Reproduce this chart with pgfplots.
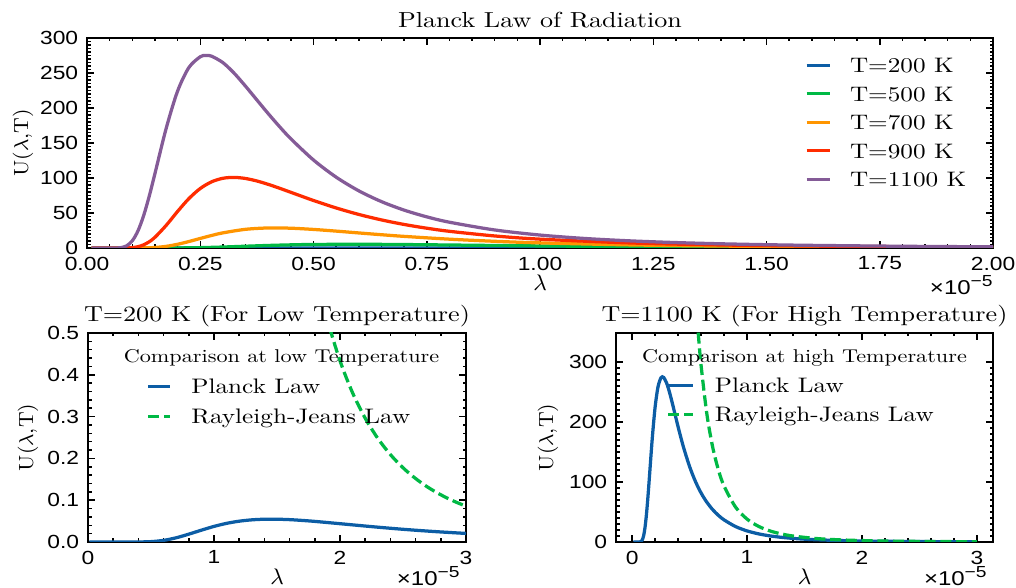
\documentclass[border=0pt]{standalone}
\usepackage{fontspec}
\usepackage{pgfplots}
\pgfplotsset{compat=1.18}
\newfontfamily\lmx{lmroman10-regular.otf}[FakeStretch=1.2]
\newfontfamily\tkf{Liberation Sans}[FakeStretch=1.2]
\definecolor{sciblue}{HTML}{0C5DA5}
\definecolor{scigreen}{HTML}{00B945}
\definecolor{sciorange}{HTML}{FF9500}
\definecolor{scired}{HTML}{FF2C00}
\definecolor{scipurple}{HTML}{845B97}
\newcommand{\ttlfont}{\lmx\fontsize{8.7}{10}\selectfont}
\newcommand{\legfont}{\lmx\fontsize{8.4}{10}\selectfont}
\newcommand{\legtfont}{\lmx\fontsize{7.4}{9}\selectfont}
\newcommand{\tkfont}{\tkf\fontsize{7.6}{8.5}\selectfont}
\newcommand{\tenfive}{{\tkf\fontsize{8}{9}\selectfont ×10\raisebox{3.2pt}{\tkf\fontsize{6.4}{7}\selectfont −5}}}

% Planck law U(lambda,T), lambda in units of 1e-5 m
\pgfplotstableread{
x y
0.01 0
0.30 0
0.40 0.0001
0.50 0.0009
0.60 0.0039
0.70 0.0101
0.80 0.0188
0.90 0.0283
1.00 0.0373
1.10 0.0446
1.20 0.0498
1.30 0.0530
1.40 0.0545
1.50 0.0545
1.60 0.0535
1.70 0.0516
1.80 0.0493
2.00 0.0438
2.25 0.0368
2.50 0.0304
2.75 0.0250
3.00 0.0205
}\tTwoHundred
\pgfplotstableread{
x y
0.01 0
0.15 0.003
0.20 0.087
0.25 0.506
0.30 1.389
0.35 2.534
0.40 3.638
0.45 4.498
0.50 5.046
0.60 5.324
0.70 4.931
0.80 4.278
0.90 3.592
1.00 2.969
1.20 2.002
1.40 1.360
1.60 0.943
1.80 0.669
2.00 0.485
}\tFiveHundred
\pgfplotstableread{
x y
0.01 0
0.10 0.0058
0.125 0.116
0.15 0.725
0.175 2.382
0.20 5.312
0.225 9.246
0.25 13.63
0.275 17.89
0.30 21.61
0.35 26.68
0.40 28.62
0.45 28.26
0.50 26.52
0.55 24.12
0.60 21.51
0.65 18.96
0.70 16.60
0.80 12.61
0.90 9.572
1.00 7.317
1.20 4.407
1.40 2.774
1.60 1.819
1.80 1.237
2.00 0.868
}\tSevenHundred
\pgfplotstableread{
x y
0.01 0
0.075 0.011
0.0875 0.111
0.10 0.560
0.1125 1.839
0.125 4.503
0.1375 8.955
0.15 15.29
0.175 32.48
0.20 52.27
0.225 70.61
0.25 84.99
0.275 94.56
0.30 99.59
0.325 100.86
0.35 99.28
0.375 95.74
0.40 90.92
0.425 85.39
0.45 79.53
0.50 67.87
0.55 57.20
0.60 47.94
0.65 40.12
0.70 33.63
0.75 28.27
0.80 23.85
0.90 17.20
1.00 12.63
1.20 7.184
1.40 4.347
1.60 2.771
1.80 1.845
2.00 1.273
}\tNineHundred
\pgfplotstableread{
x y
0.01 0
0.05 0.0007
0.0625 0.042
0.075 0.551
0.0875 3.086
0.10 10.27
0.1125 24.42
0.125 46.19
0.1375 74.34
0.15 106.40
0.175 171.40
0.20 224.2
0.225 257.9
0.25 273.2
0.2625 275.1
0.275 274.0
0.30 264.8
0.325 249.6
0.35 231.1
0.375 211.5
0.40 192.0
0.425 173.4
0.45 156.0
0.50 125.7
0.55 101.2
0.60 81.66
0.65 66.27
0.70 54.12
0.75 44.50
0.80 36.84
0.90 25.76
1.00 18.48
1.10 13.56
1.20 10.15
1.30 7.741
1.40 6.001
1.50 4.719
1.60 3.761
1.80 2.471
2.00 1.688
2.25 1.097
2.50 0.743
2.75 0.521
3.00 0.376
}\tElevenHundred
% Rayleigh-Jeans law
\pgfplotstableread{
x y
1.8 0.6608
1.9 0.5323
2.0 0.4335
2.1 0.3567
2.2 0.2961
2.3 0.2479
2.4 0.2091
2.5 0.1776
2.6 0.1518
2.7 0.1305
2.8 0.1129
2.9 0.0981
3.0 0.0856
}\rjLow
\pgfplotstableread{
x y
0.50 610.4
0.55 416.9
0.575 349.0
0.60 294.4
0.65 213.7
0.70 158.9
0.75 120.6
0.80 93.14
0.90 58.15
1.00 38.15
1.10 26.06
1.20 18.40
1.30 13.36
1.40 9.931
1.60 5.821
1.80 3.634
2.00 2.384
2.25 1.489
2.50 0.977
2.75 0.667
3.00 0.471
}\rjHigh

\pgfplotsset{
  sci/.style={
    scale only axis,
    anchor=south west,
    axis line style={line width=0.9pt},
    tick style={black, line width=0.6pt},
    major tick length=2.8pt,
    minor tick length=1.4pt,
    tick align=inside,
    ticklabel style={font=\tkfont},
    /pgf/number format/assume math mode=true,
    scaled ticks=false,
    clip mode=individual,
    every axis plot/.append style={line width=1.3pt, smooth},
    title style={font=\ttlfont, at={(axis description cs:0.5,1)}, anchor=center, yshift=1.2pt},
    xlabel style={font=\fontsize{9}{10}\selectfont, at={(axis description cs:0.5,0)}, anchor=center, yshift=-14pt},
    ylabel style={font=\fontsize{8.2}{9}\selectfont, at={(axis description cs:0,0.5)}, anchor=center},
    legend style={draw=none, fill=none, inner sep=0pt, outer sep=0pt, anchor=north west,
      column sep=7.6pt, nodes={inner sep=0pt, text height=5.9pt, text depth=0pt}, font=\legfont},
    legend cell align=left,
    legend image code/.code={\draw[##1,line width=1.2pt] (0pt,0pt) -- (9.2pt,0pt);},
  },
  rj/.style={scigreen, dash pattern=on 4.4pt off 1.9pt},
  legshort/.style={legend image code/.code={\draw[##1,line width=1.2pt] (0pt,0pt) -- (8.6pt,0pt);}},
  leglong/.style={legend image code/.code={\draw[##1,line width=1.2pt] (0pt,0pt) -- (10pt,0pt);}},
}

\begin{document}
\begin{tikzpicture}
\useasboundingbox (0,0) rectangle (406.4pt,235.2pt);

\begin{axis}[sci, at={(34.8pt,136pt)}, width=362.4pt, height=84pt,
  xmin=0, xmax=2, ymin=0, ymax=300,
  xtick={0,0.25,0.5,0.75,1,1.25,1.5,1.75,2},
  xticklabels={0.00,0.25,0.50,0.75,1.00,1.25,1.50,1.75,2.00},
  minor x tick num=4,
  ytick={0,50,100,150,200,250,300}, minor y tick num=9,
  title={Planck Law of Radiation},
  xlabel={$\lambda$}, ylabel={U($\lambda$,T)},
  ylabel style={yshift=25.6pt},
  legend style={at={(axis description cs:0.7925,0.905)}, row sep=5.5pt},
]
\addplot[sciblue] table {\tTwoHundred};
\addlegendentry{T=200 K}
\addplot[scigreen] table {\tFiveHundred};
\addlegendentry{T=500 K}
\addplot[sciorange] table {\tSevenHundred};
\addlegendentry{T=700 K}
\addplot[scired] table {\tNineHundred};
\addlegendentry{T=900 K}
\addplot[scipurple] table {\tElevenHundred};
\addlegendentry{T=1100 K}
\node[inner sep=0.5pt] at (rel axis cs:0.965,0) [yshift=-14.8pt] {\tenfive};
\end{axis}

\begin{axis}[sci, legshort, at={(35.2pt,18.4pt)}, width=151.2pt, height=83.6pt,
  xmin=0, xmax=3, ymin=0, ymax=0.5,
  xtick={0,1,2,3}, minor x tick num=4,
  ytick={0,0.1,0.2,0.3,0.4,0.5},
  yticklabels={0.0,0.1,0.2,0.3,0.4,0.5}, minor y tick num=4,
  title={T=200 K (For Low Temperature)},
  title style={yshift=-0.4pt},
  xlabel={$\lambda$}, ylabel={U($\lambda$,T)},
  ylabel style={yshift=24pt},
  legend style={at={(axis description cs:0.156,0.781)}, row sep=6.1pt, column sep=8pt},
]
\addplot[sciblue] table {\tTwoHundred};
\addlegendentry{Planck Law}
\addplot[rj] table {\rjLow};
\addlegendentry{Rayleigh-Jeans Law}
\node[font=\legtfont] at (rel axis cs:0.512,0.880) {Comparison at low Temperature};
\node[inner sep=0.5pt] at (rel axis cs:0.90,0) [yshift=-13.6pt] {\tenfive};
\end{axis}

\begin{axis}[sci, leglong, at={(246.4pt,18.4pt)}, width=150.8pt, height=83.6pt,
  xmin=-0.14, xmax=3.14, ymin=0, ymax=348,
  xtick={0,1,2,3}, minor x tick num=4,
  ytick={0,100,200,300}, minor y tick num=9,
  title={T=1100 K (For High Temperature)},
  title style={yshift=-0.4pt},
  xlabel={$\lambda$}, ylabel={U($\lambda$,T)},
  ylabel style={yshift=27.2pt},
  legend style={at={(axis description cs:0.135,0.786)}, row sep=5.7pt, column sep=8pt},
]
\addplot[sciblue] table {\tElevenHundred};
\addlegendentry{Planck Law}
\addplot[rj] table {\rjHigh};
\addlegendentry{Rayleigh-Jeans Law}
\node[font=\legtfont] at (rel axis cs:0.50,0.880) {Comparison at high Temperature};
\node[inner sep=0.5pt] at (rel axis cs:0.90,0) [yshift=-13.6pt] {\tenfive};
\end{axis}
\end{tikzpicture}
\end{document}
